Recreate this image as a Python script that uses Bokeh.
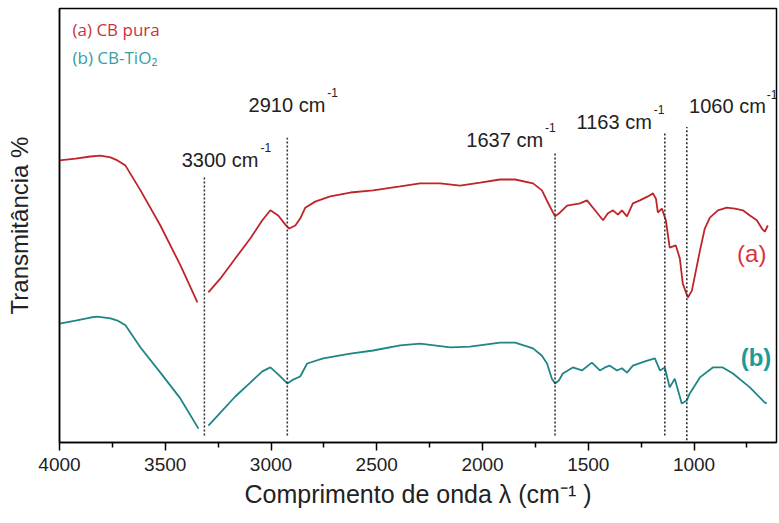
from bokeh.plotting import figure
from bokeh.models import Range1d, FixedTicker
from bokeh.core.properties import value
from bokeh.embed import file_html
from bokeh.resources import INLINE

nan = float("nan")

# ---- data ----
red_wn = [4000, 3924, 3854, 3806, 3759, 3726, 3688, 3617, 3523, 3428, 3348, nan,
          3296, 3239, 3169, 3098, 3041, 3003, 2966, 2932, 2914, 2885,
          2862, 2838, 2791, 2720, 2625, 2517, 2389, 2295, 2200, 2106,
          2011, 1917, 1846, 1761, 1719, 1691, 1657, 1633, 1600, 1539,
          1506, 1468, 1430, 1407, 1383, 1360, 1341, 1317, 1289, 1256,
          1218, 1194, 1180, 1171, 1152, 1133, 1115, 1086, 1067, 1053,
          1038, 1029, 1010, 991, 972, 949, 925, 887, 845, 807,
          769, 736, 703, 679, 665, 651]
red_t = [65.0, 65.4, 65.9, 66.1, 65.7, 65.0, 63.8, 58.1, 50.0, 40.8, 32.3, nan,
         34.6, 37.8, 42.4, 47.0, 51.2, 53.5, 52.3, 50.2, 49.3, 50.0,
         51.6, 54.1, 55.5, 56.7, 57.6, 58.1, 59.0, 59.7, 59.7, 59.2,
         59.9, 60.6, 60.6, 59.7, 58.1, 55.3, 52.1, 53.0, 54.6, 55.1,
         55.8, 53.5, 51.2, 52.8, 53.5, 52.5, 53.5, 52.1, 55.1, 55.8,
         56.7, 57.4, 56.2, 53.0, 53.9, 51.2, 44.9, 45.4, 42.4, 36.6,
         34.6, 33.4, 35.0, 39.6, 44.2, 49.3, 51.8, 53.5, 54.1, 53.9,
         53.5, 52.3, 51.2, 49.3, 48.6, 50.0]

teal_wn = [4000, 3924, 3854, 3821, 3759, 3726, 3688, 3617, 3523, 3428, 3343, nan,
           3296, 3239, 3169, 3098, 3041, 3003, 2966, 2923, 2895, 2862,
           2829, 2753, 2625, 2517, 2389, 2295, 2153, 2059, 1917, 1846,
           1761, 1719, 1695, 1672, 1657, 1639, 1620, 1573, 1530, 1483,
           1445, 1421, 1398, 1364, 1341, 1317, 1289, 1232, 1185, 1161,
           1138, 1115, 1091, 1058, 1034, 1020, 972, 911, 864, 816,
           736, 665, 656]
teal_t = [27.4, 28.1, 28.8, 29.0, 28.6, 28.1, 27.0, 21.9, 16.1, 10.1, 3.2, nan,
          3.9, 6.9, 10.6, 13.8, 16.4, 17.3, 15.7, 13.6, 14.5, 15.2,
          18.2, 19.4, 20.5, 21.2, 22.4, 22.8, 21.9, 22.1, 23.0, 23.0,
          21.7, 20.0, 18.2, 14.7, 13.6, 14.3, 15.9, 17.3, 16.6, 18.4,
          16.6, 17.3, 17.7, 16.6, 17.1, 16.1, 17.7, 18.7, 19.4, 16.6,
          17.3, 12.7, 14.7, 9.0, 9.7, 11.3, 15.0, 17.3, 17.3, 15.9,
          12.7, 9.2, 9.0]

peak_pos = [3315, 2923, 1657, 1138, 1034]
peak_labels = ["3300 cm", "2910 cm", "1637 cm", "1163 cm", "1060 cm"]
peak_top = [61.5, 70.2, 67.0, 71.4, 72.7]
peak_bottom = [1.6, 1.6, 1.6, 1.6, 0.5]
label_y = [65.1, 77.8, 69.7, 73.9, 77.6]
sup_y = [67.9, 80.6, 72.5, 76.7, 80.2]

x_major = [4000, 3500, 3000, 2500, 2000, 1500, 1000]
x_minor = [3750, 3250, 2750, 2250, 1750, 1250, 750]

legend_texts = ["(a) CB pura", "(b) CB-TiO\u2082"]
legend_y = [95.2, 88.7]

RED = "#c0242b"
TEAL = "#1f8586"

# ---- figure ----
p = figure(frame_width=717, frame_height=434,
           x_range=Range1d(4000, 610), y_range=Range1d(0, 100),
           output_backend="svg", toolbar_location=None,
           min_border_left=59, min_border_right=2, min_border_top=8,
           min_border_bottom=75, background_fill_color="white")
p.xgrid.visible = False
p.ygrid.visible = False
p.outline_line_color = "black"
p.outline_line_width = 1.5

xa = p.xaxis[0]
xa.ticker = FixedTicker(ticks=x_major, minor_ticks=x_minor)
xa.axis_line_color = "black"
xa.axis_line_width = 1.5
xa.major_tick_line_color = "black"
xa.major_tick_line_width = 1.5
xa.major_tick_out = 8
xa.major_tick_in = 0
xa.minor_tick_line_color = "black"
xa.minor_tick_line_width = 1.5
xa.minor_tick_out = 5
xa.minor_tick_in = 0
xa.major_label_text_font = "Liberation Sans"
xa.major_label_text_font_size = "19px"
xa.major_label_text_color = "#222222"
xa.major_label_standoff = 7
xa.axis_label = "Comprimento de onda \u03bb (cm\u207b\u00b9 )"
xa.axis_label_text_font = "Liberation Sans"
xa.axis_label_text_font_size = "25px"
xa.axis_label_text_font_style = "normal"
xa.axis_label_text_color = "#222222"
xa.axis_label_standoff = 6

ya = p.yaxis[0]
ya.ticker = FixedTicker(ticks=[])
ya.axis_line_color = "black"
ya.axis_line_width = 1.5
ya.major_tick_line_color = None
ya.minor_tick_line_color = None
ya.axis_label = "Transmit\u00e2ncia %"
ya.axis_label_text_font = "Liberation Sans"
ya.axis_label_text_font_size = "24px"
ya.axis_label_text_font_style = "normal"
ya.axis_label_text_color = "#222222"
ya.axis_label_standoff = 27

# spectra
p.line(red_wn, red_t, line_color=RED, line_width=1.8)
p.line(teal_wn, teal_t, line_color=TEAL, line_width=1.8)

# dotted guide lines
p.segment(x0=peak_pos, y0=peak_bottom, x1=peak_pos, y1=peak_top,
          line_color="#333333", line_width=1.6, line_dash="2 2")

# peak labels (main text right-aligned to where the superscript begins)
main_off = [54, 38, -12, -13, 79]
sup_off = [56, 40, -10, -11, 80]
p.text(x=peak_pos, y=label_y, text=peak_labels, x_offset=main_off,
       text_align="right", text_baseline="middle",
       text_font=value("Liberation Sans"), text_font_size="20px",
       text_color="#222222")
p.text(x=peak_pos, y=sup_y, text=["-1"] * len(peak_pos), x_offset=sup_off,
       text_align="left", text_baseline="middle",
       text_font=value("Liberation Sans"), text_font_size="12px",
       text_color="#222222")

# legend texts at top-left
p.text(x=[4000, 4000], y=legend_y, text=legend_texts, x_offset=13,
       text_align="left", text_baseline="middle",
       text_font=value("Open Sans"), text_font_size="17px",
       text_color=["#c8343f", "#35a0a0"])

# curve tags
p.text(x=[727], y=[43.6], text=["(a)"], text_align="center",
       text_baseline="middle", text_font=value("Liberation Sans"),
       text_font_size="24px", text_color="#d6353b")
p.text(x=[707], y=[19.6], text=["(b)"], text_align="center",
       text_baseline="middle", text_font=value("Liberation Sans"),
       text_font_size="24px", text_font_style="bold", text_color="#1f9a9b")

open("out.html", "w").write(file_html(p, INLINE))
